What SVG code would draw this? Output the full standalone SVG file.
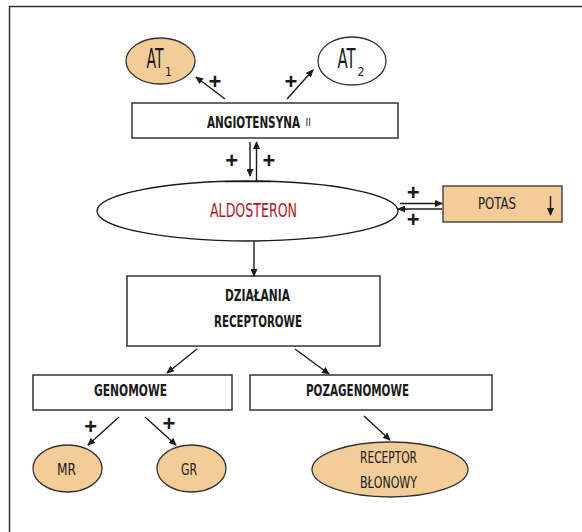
<svg xmlns="http://www.w3.org/2000/svg" width="582" height="532" viewBox="0 0 582 532">
<style>
.t{font-family:"Liberation Sans Narrow","DejaVu Sans Condensed","Liberation Sans",sans-serif;fill:#1a1a1a}
.b{font-weight:bold}
.box{fill:#fff;stroke:#333;stroke-width:1.5}
.tan{fill:#F3CC98;stroke:#333;stroke-width:1.3}
.wh{fill:#fff;stroke:#333;stroke-width:1.3}
.c{fill:none;stroke:#1a1a1a;stroke-width:1.4}
.p{font-family:"Liberation Sans",sans-serif;font-size:22px;font-weight:bold;fill:#1a1a1a;text-anchor:middle}
</style>
<defs>
<marker id="ah" markerUnits="userSpaceOnUse" markerWidth="8" markerHeight="7" refX="7" refY="3.5" orient="auto">
<path d="M0,0 L8,3.5 L0,7 z" fill="#1a1a1a"/>
</marker>
</defs>
<rect width="582" height="532" fill="#fff"/>
<path d="M9.5,532 V6.5 H582" fill="none" stroke="#333" stroke-width="1.5"/>

<g id="at1">
<ellipse cx="160.5" cy="61" rx="34.5" ry="23" class="tan"/>
<text class="t" x="146.5" y="68" font-size="26"><tspan textLength="17" lengthAdjust="spacingAndGlyphs">AT</tspan><tspan x="165" y="76" font-size="12">1</tspan></text>
</g>
<g id="at2">
<ellipse cx="352" cy="61" rx="34" ry="24" class="wh"/>
<text class="t" x="337.5" y="68" font-size="26"><tspan textLength="18" lengthAdjust="spacingAndGlyphs">AT</tspan><tspan x="357.5" y="76" font-size="12">2</tspan></text>
</g>
<g id="angiotensyna">
<rect x="132" y="103" width="266" height="35" class="box"/>
<text class="t" x="207" y="127.5" font-size="15"><tspan font-weight="bold" textLength="93" lengthAdjust="spacingAndGlyphs">ANGIOTENSYNA</tspan><tspan x="305.5" y="126" font-size="10">II</tspan></text>
</g>
<g id="aldosteron">
<ellipse cx="247.5" cy="211" rx="150.5" ry="30" fill="#fff" stroke="#1a1a1a" stroke-width="1.3"/>
<text x="210" y="216.7" font-size="19" textLength="87" lengthAdjust="spacingAndGlyphs" style="font-family:'Liberation Sans Narrow','DejaVu Sans Condensed','Liberation Sans',sans-serif;fill:#B0161E">ALDOSTERON</text>
</g>
<g id="potas">
<rect x="443" y="186" width="119" height="36" class="tan"/>
<text class="t" x="478" y="209" font-size="16" textLength="38" lengthAdjust="spacingAndGlyphs">POTAS</text>
<path d="M550.5,196 V215" class="c" stroke-width="1.1" marker-end="url(#ah)"/>
</g>
<g id="dzialania">
<rect x="127" y="276" width="253" height="70" class="box"/>
<text class="t b" x="225" y="300.7" font-size="15" textLength="65" lengthAdjust="spacingAndGlyphs">DZIAŁANIA</text>
<text class="t b" x="214" y="326.7" font-size="15" textLength="88" lengthAdjust="spacingAndGlyphs">RECEPTOROWE</text>
</g>
<g id="genomowe">
<rect x="33" y="375" width="199" height="35" class="box"/>
<text class="t b" x="94" y="396" font-size="15" textLength="73" lengthAdjust="spacingAndGlyphs">GENOMOWE</text>
</g>
<g id="pozagenomowe">
<rect x="250" y="375" width="242" height="35" class="box"/>
<text class="t b" x="306" y="396" font-size="15" textLength="103" lengthAdjust="spacingAndGlyphs">POZAGENOMOWE</text>
</g>
<g id="mr">
<ellipse cx="67.5" cy="468.5" rx="34.5" ry="23.5" class="tan"/>
<text class="t" x="57" y="475" font-size="16" textLength="19" lengthAdjust="spacingAndGlyphs">MR</text>
</g>
<g id="gr">
<ellipse cx="191.5" cy="468.5" rx="34.5" ry="23.5" class="tan"/>
<text class="t" x="181" y="475" font-size="16" textLength="16" lengthAdjust="spacingAndGlyphs">GR</text>
</g>
<g id="receptor">
<ellipse cx="390" cy="469.5" rx="78" ry="27.5" class="tan"/>
<text class="t" x="360" y="462.7" font-size="16" textLength="57" lengthAdjust="spacingAndGlyphs">RECEPTOR</text>
<text class="t" x="360" y="488.3" font-size="16" textLength="57" lengthAdjust="spacingAndGlyphs">BŁONOWY</text>
</g>

<g id="connectors">
<path d="M225,99 L196,77" class="c" marker-end="url(#ah)"/>
<path d="M287,99 L313,70" class="c" marker-end="url(#ah)"/>
<path d="M250,142 V176" class="c" marker-end="url(#ah)"/>
<path d="M256.5,182 V142" class="c" marker-end="url(#ah)"/>
<path d="M225,181.5 H271" class="c"/>
<path d="M400,203.5 H442" class="c" marker-end="url(#ah)"/>
<path d="M442,209 H398" class="c" marker-end="url(#ah)"/>
<path d="M254,241 V276" class="c" marker-end="url(#ah)"/>
<path d="M197,349 L167,373" class="c" marker-end="url(#ah)"/>
<path d="M295,349 L329,374" class="c" marker-end="url(#ah)"/>
<path d="M119,417 L88,445" class="c" marker-end="url(#ah)"/>
<path d="M145,417 L176,445" class="c" marker-end="url(#ah)"/>
<path d="M364,416 L390,440" class="c" marker-end="url(#ah)"/>
<text class="p" x="215" y="89">+</text>
<text class="p" x="291" y="89">+</text>
<text class="p" x="231.7" y="168">+</text>
<text class="p" x="269" y="168">+</text>
<text class="p" x="413.3" y="199.5">+</text>
<text class="p" x="413.3" y="226.5">+</text>
<text class="p" x="90.7" y="434">+</text>
<text class="p" x="169" y="431">+</text>
</g>
</svg>
